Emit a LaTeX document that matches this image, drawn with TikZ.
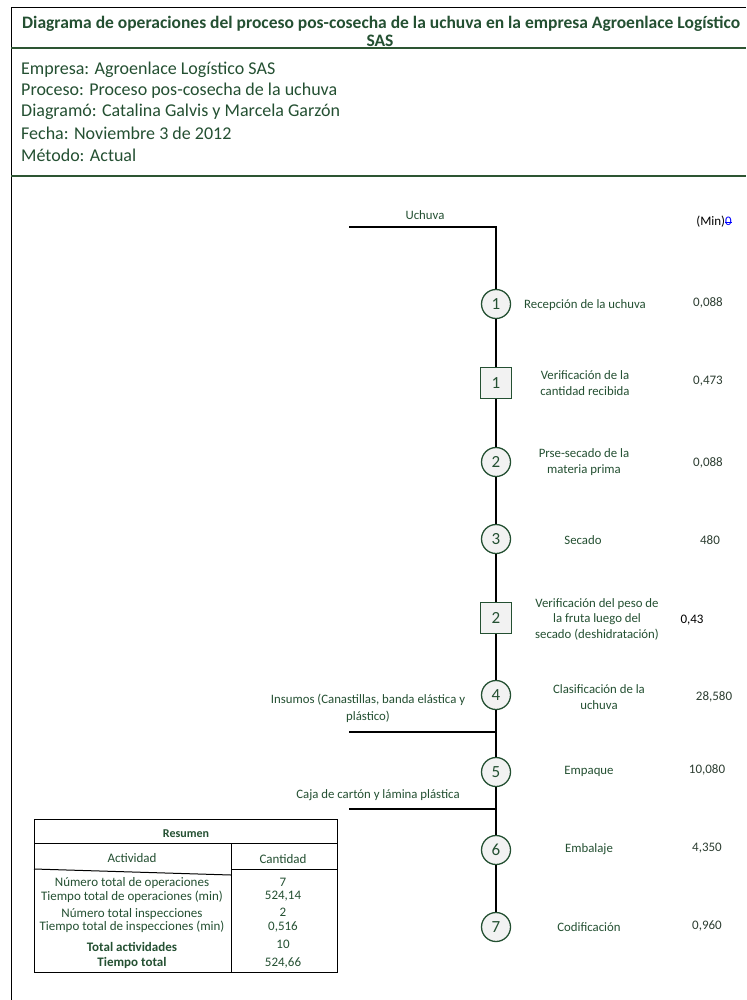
\documentclass[tikz,border=0pt]{standalone}
\usepackage{fontspec}
\setmainfont{Carlito}
\definecolor{dkgreen}{RGB}{36,80,50}
\definecolor{lngreen}{RGB}{45,85,50}
\definecolor{valgray}{RGB}{45,62,50}
\definecolor{boxfill}{RGB}{242,242,242}
\begin{document}
\begin{tikzpicture}[x=1pt,y=-1pt,
  op/.style={circle, draw=dkgreen, fill=boxfill, line width=1.3pt, minimum size=29pt, inner sep=0pt, font=\fontsize{17}{17}\selectfont, text=dkgreen},
  insp/.style={rectangle, draw=dkgreen, fill=boxfill, line width=1.3pt, minimum size=31pt, inner sep=0pt, font=\fontsize{17}{17}\selectfont, text=dkgreen},
  lbl/.style={font=\fontsize{12.8}{15.5}\selectfont, text=dkgreen, align=center, inner sep=0pt},
  val/.style={font=\fontsize{13}{15}\selectfont, text=valgray, inner sep=0pt},
  hdr/.style={font=\fontsize{18}{21}\selectfont, text=dkgreen, anchor=west, inner sep=0pt},
  flow/.style={draw=black, line width=1.3pt},
  tbl/.style={font=\fontsize{13}{13.5}\selectfont, text=dkgreen, align=center, inner sep=0pt},
  ttl/.style={font=\bfseries\fontsize{17.5}{20}\selectfont, text=dkgreen, inner sep=0pt}
]
\useasboundingbox (0,0) rectangle (746,1000);
\fill[white] (0,0) rectangle (746,1000);
% frame
\draw[line width=1pt] (11,1000) -- (11,8) -- (746,8);
\draw[draw=lngreen, line width=2pt] (11,48) -- (746,48);
\draw[draw=lngreen, line width=2pt] (11,176) -- (746,176);
% title
\node[ttl, anchor=west] (title) at (22,24) {Diagrama de operaciones del proceso pos-cosecha de la uchuva en la empresa Agroenlace Logístico};
\node[ttl] (title2) at (380,40.5) {SAS};
% header info
\node[hdr] (h1) at (21,70) {Empresa: Agroenlace Logístico SAS};
\node[hdr] (h2) at (21,91) {Proceso: Proceso pos-cosecha de la uchuva};
\node[hdr] (h3) at (21,112) {Diagramó: Catalina Galvis y Marcela Garzón};
\node[hdr] (h4) at (21,133) {Fecha: Noviembre 3 de 2012};
\node[hdr] (h5) at (21,155) {Método: Actual};
% top
\node[lbl] (uch) at (425,215) {Uchuva};
\node[val, text=black] (minlbl) at (714,222) {(Min)\textcolor{blue}{\rlap{\rule[0.22em]{0.5em}{0.6pt}}0}};
\coordinate (uStart) at (349,227);
\coordinate (uCorner) at (496,227);
% symbols
\node[op] (c1) at (496,304) {1};
\node[insp] (s1) at (496,383) {1};
\node[op] (c2) at (496,462) {2};
\node[op] (c3) at (496,539) {3};
\node[insp] (s2) at (496,618) {2};
\node[op] (c4) at (496,695) {4};
\node[op] (c5) at (496,772) {5};
\node[op] (c6) at (496,850) {6};
\node[op] (c7) at (496,927) {7};
% flow lines
\draw[flow] (uStart) -- (uCorner) -- (c1);
\draw[flow] (c1) -- (s1);
\draw[flow] (s1) -- (c2);
\draw[flow] (c2) -- (c3);
\draw[flow] (c3) -- (s2);
\draw[flow] (s2) -- (c4);
\draw[flow] (c4) -- (c5);
\draw[flow] (c5) -- (c6);
\draw[flow] (c6) -- (c7);
\coordinate (insL) at (349,732);
\coordinate (insR) at (496,732);
\draw[flow] (insL) -- (insR);
\coordinate (cajL) at (349,809);
\coordinate (cajR) at (496,809);
\draw[flow] (cajL) -- (cajR);
\node[lbl, font=\fontsize{12.8}{17}\selectfont] (ins) at (368,708) {Insumos (Canastillas, banda elástica y\\ plástico)};
\node[lbl] (caj) at (378,795) {Caja de cartón y lámina plástica};
% labels
\node[lbl] (l1) at (585,305) {Recepción de la uchuva};
\node[lbl] (l2) at (585,383) {Verificación de la\\ cantidad recibida};
\node[lbl] (l3) at (584,462) {Prse-secado de la\\ materia prima};
\node[lbl] (l4) at (583,540) {Secado};
\node[lbl] (l5) at (597,619) {Verificación del peso de\\ la fruta luego del\\ secado (deshidratación)};
\node[lbl] (l6) at (599,697) {Clasificación de la\\ uchuva};
\node[lbl] (l7) at (589,771) {Empaque};
\node[lbl] (l8) at (589,849) {Embalaje};
\node[lbl] (l9) at (589,927) {Codificación};
% values
\node[val] (v1) at (708,303) {0,088};
\node[val] (v2) at (708,381) {0,473};
\node[val] (v3) at (708,463) {0,088};
\node[val] (v4) at (710,540) {480};
\node[val, text=black] (v5) at (692,620) {0,43};
\node[val] (v6) at (714,697) {28,580};
\node[val] (v7) at (707,770) {10,080};
\node[val] (v8) at (707,848) {4,350};
\node[val] (v9) at (707,926) {0,960};
% summary table
\draw[line width=1pt] (34,819) rectangle (337,972);
\draw[line width=1pt] (34,843) -- (337,843);
\draw[line width=1pt] (231,843) -- (231,972);
\draw[line width=1pt] (231,869) -- (337,869);
\draw[line width=1pt] (34,869) -- (231,875);
\node[tbl, font=\bfseries\fontsize{12}{13.5}\selectfont] (tres) at (186,834) {Resumen};
\node[tbl] (tact) at (132,858) {Actividad};
\node[tbl] (tcan) at (283,859) {Cantidad};
\node[tbl] (r1) at (132,890) {Número total de operaciones\\ Tiempo total de operaciones (min)};
\node[tbl] (r2) at (132,920.5) {Número total inspecciones\\ Tiempo total de inspecciones (min)};
\node[tbl, font=\bfseries\fontsize{13}{15}\selectfont] (r3) at (132,955.5) {Total actividades\\ Tiempo total};
\node[tbl] (q1) at (283,889.5) {7\\ 524,14};
\node[tbl] (q2) at (283,920) {2\\ 0,516};
\node[tbl, font=\fontsize{13}{18}\selectfont] (q3) at (283,954) {10\\ 524,66};
\end{tikzpicture}
\end{document}
